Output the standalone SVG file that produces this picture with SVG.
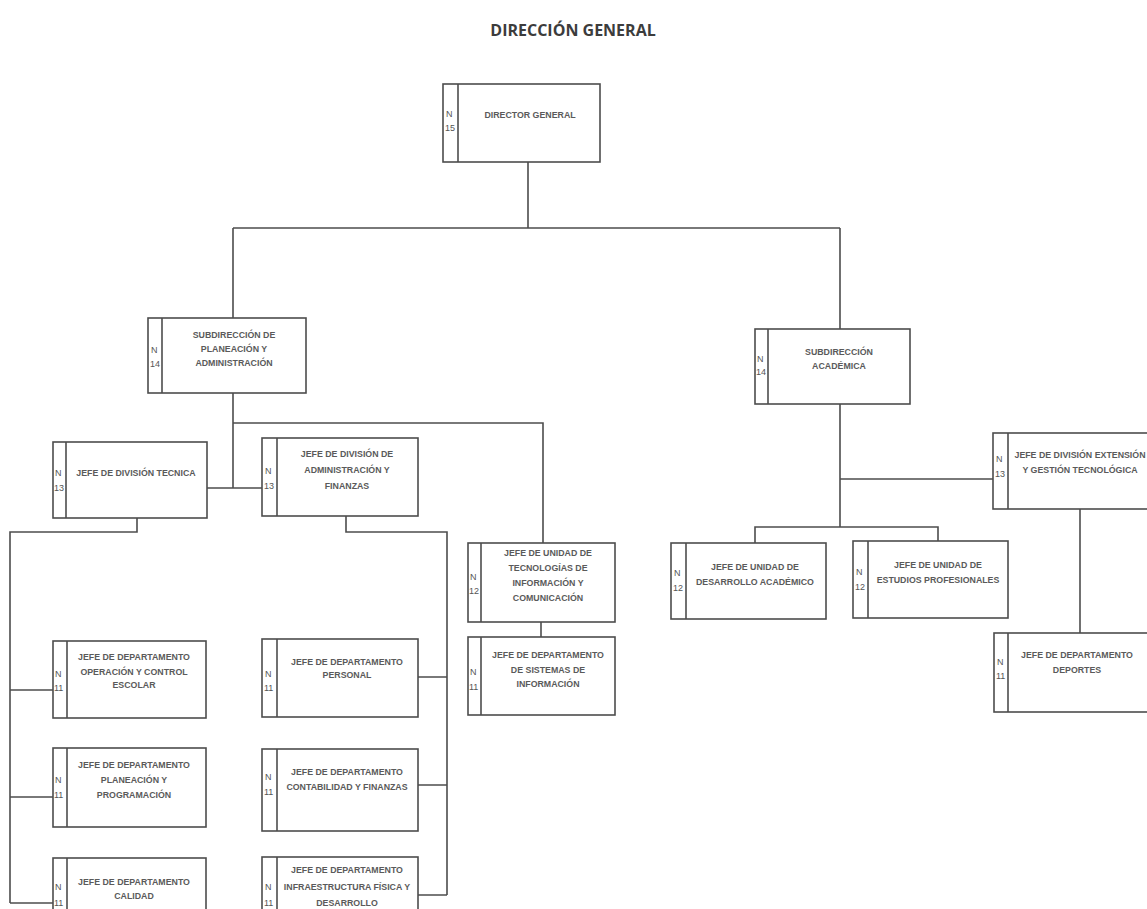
<svg xmlns="http://www.w3.org/2000/svg" width="1147" height="909" viewBox="0 0 1147 909">
<style>
.bg{fill:#ffffff}
.box{fill:#ffffff;stroke:#4d4d4d;stroke-width:1.6}
.strip{stroke:#4d4d4d;stroke-width:1.6}
.ln{fill:none;stroke:#4d4d4d;stroke-width:1.6}
.t{font-family:"Liberation Sans",Arial,sans-serif;font-size:8.8px;font-weight:bold;fill:#5a5a5a;text-anchor:middle}
.n{font-family:"Liberation Sans",Arial,sans-serif;font-size:9px;fill:#555555}
.title{font-family:"Open Sans","Liberation Sans",sans-serif;font-size:16px;font-weight:bold;fill:#3c3c3c;text-anchor:middle}
</style>
<rect class="bg" x="0" y="0" width="1147" height="909"/>
<text class="title" x="573" y="36">DIRECCIÓN GENERAL</text>

<g id="connectors">
<path class="ln" d="M528 162 V228 M233 228 H840 M233 228 V318 M840 228 V329"/>
<path class="ln" d="M233 393 V488 M207 488 H262 M233 423 H543 V543"/>
<path class="ln" d="M137 518 V532 H10 V903 M10 690 H53 M10 797 H53 M10 903 H53"/>
<path class="ln" d="M346 516 V532 H447 V895 M418 677 H447 M418 785 H447 M418 895 H447"/>
<path class="ln" d="M541 622 V637"/>
<path class="ln" d="M840 404 V527 M840 479 H993 M755 543 V527 H938 V541"/>
<path class="ln" d="M1080 509 V633"/>
</g>

<g id="director">
<rect class="box" x="443" y="84" width="157" height="78"/>
<line class="strip" x1="458" y1="84" x2="458" y2="162"/>
<text class="n" x="446" y="117">N</text><text class="n" x="445" y="131">15</text>
<text class="t" x="530" y="118">DIRECTOR GENERAL</text>
</g>

<g id="sub-planeacion">
<rect class="box" x="148" y="318" width="158" height="75"/>
<line class="strip" x1="162" y1="318" x2="162" y2="393"/>
<text class="n" x="151" y="353">N</text><text class="n" x="150" y="367">14</text>
<text class="t" x="234" y="338">SUBDIRECCIÓN DE</text>
<text class="t" x="234" y="352">PLANEACIÓN Y</text>
<text class="t" x="234" y="366">ADMINISTRACIÓN</text>
</g>

<g id="sub-academica">
<rect class="box" x="755" y="329" width="155" height="75"/>
<line class="strip" x1="768" y1="329" x2="768" y2="404"/>
<text class="n" x="757" y="362">N</text><text class="n" x="756" y="375">14</text>
<text class="t" x="839" y="355">SUBDIRECCIÓN</text>
<text class="t" x="839" y="369">ACADÉMICA</text>
</g>

<g id="div-tecnica">
<rect class="box" x="53" y="442" width="154" height="76"/>
<line class="strip" x1="66" y1="442" x2="66" y2="518"/>
<text class="n" x="55" y="476">N</text><text class="n" x="54" y="491">13</text>
<text class="t" x="136" y="476">JEFE DE DIVISIÓN TECNICA</text>
</g>

<g id="div-administracion">
<rect class="box" x="262" y="438" width="156" height="78"/>
<line class="strip" x1="277" y1="438" x2="277" y2="516"/>
<text class="n" x="265" y="474">N</text><text class="n" x="264" y="489">13</text>
<text class="t" x="347" y="457">JEFE DE DIVISIÓN DE</text>
<text class="t" x="347" y="473">ADMINISTRACIÓN Y</text>
<text class="t" x="347" y="489">FINANZAS</text>
</g>

<g id="unidad-tic">
<rect class="box" x="468" y="543" width="147" height="79"/>
<line class="strip" x1="481" y1="543" x2="481" y2="622"/>
<text class="n" x="470" y="580">N</text><text class="n" x="469" y="594">12</text>
<text class="t" x="548" y="556">JEFE  DE UNIDAD DE</text>
<text class="t" x="548" y="571">TECNOLOGÍAS DE</text>
<text class="t" x="548" y="586">INFORMACIÓN Y</text>
<text class="t" x="548" y="601">COMUNICACIÓN</text>
</g>

<g id="depto-sistemas">
<rect class="box" x="468" y="637" width="147" height="78"/>
<line class="strip" x1="481" y1="637" x2="481" y2="715"/>
<text class="n" x="470" y="675">N</text><text class="n" x="469" y="690">11</text>
<text class="t" x="548" y="658">JEFE  DE DEPARTAMENTO</text>
<text class="t" x="548" y="673">DE SISTEMAS DE</text>
<text class="t" x="548" y="687">INFORMACIÓN</text>
</g>

<g id="unidad-desarrollo">
<rect class="box" x="671" y="543" width="155" height="76"/>
<line class="strip" x1="686" y1="543" x2="686" y2="619"/>
<text class="n" x="674" y="576">N</text><text class="n" x="673" y="591">12</text>
<text class="t" x="755" y="570">JEFE  DE UNIDAD DE</text>
<text class="t" x="755" y="585">DESARROLLO ACADÉMICO</text>
</g>

<g id="unidad-estudios">
<rect class="box" x="853" y="541" width="155" height="77"/>
<line class="strip" x1="868" y1="541" x2="868" y2="618"/>
<text class="n" x="856" y="575">N</text><text class="n" x="855" y="590">12</text>
<text class="t" x="938" y="568">JEFE  DE UNIDAD DE</text>
<text class="t" x="938" y="583">ESTUDIOS PROFESIONALES</text>
</g>

<g id="div-extension">
<rect class="box" x="993" y="433" width="162" height="76"/>
<line class="strip" x1="1008" y1="433" x2="1008" y2="509"/>
<text class="n" x="996" y="462">N</text><text class="n" x="995" y="477">13</text>
<text class="t" x="1080" y="458">JEFE DE DIVISIÓN EXTENSIÓN</text>
<text class="t" x="1080" y="473">Y GESTIÓN TECNOLÓGICA</text>
</g>

<g id="depto-deportes">
<rect class="box" x="994" y="633" width="162" height="79"/>
<line class="strip" x1="1008" y1="633" x2="1008" y2="712"/>
<text class="n" x="997" y="665">N</text><text class="n" x="996" y="679">11</text>
<text class="t" x="1077" y="658">JEFE DE DEPARTAMENTO</text>
<text class="t" x="1077" y="673">DEPORTES</text>
</g>

<g id="depto-operacion">
<rect class="box" x="53" y="641" width="153" height="77"/>
<line class="strip" x1="67" y1="641" x2="67" y2="718"/>
<text class="n" x="55" y="677">N</text><text class="n" x="54" y="691">11</text>
<text class="t" x="134" y="660">JEFE DE DEPARTAMENTO</text>
<text class="t" x="134" y="675">OPERACIÓN Y CONTROL</text>
<text class="t" x="134" y="688">ESCOLAR</text>
</g>

<g id="depto-planeacion">
<rect class="box" x="53" y="748" width="153" height="79"/>
<line class="strip" x1="67" y1="748" x2="67" y2="827"/>
<text class="n" x="55" y="783">N</text><text class="n" x="54" y="798">11</text>
<text class="t" x="134" y="768">JEFE DE DEPARTAMENTO</text>
<text class="t" x="134" y="783">PLANEACIÓN Y</text>
<text class="t" x="134" y="798">PROGRAMACIÓN</text>
</g>

<g id="depto-calidad">
<rect class="box" x="53" y="858" width="153" height="70"/>
<line class="strip" x1="67" y1="858" x2="67" y2="928"/>
<text class="n" x="55" y="890">N</text><text class="n" x="54" y="906">11</text>
<text class="t" x="134" y="885">JEFE DE DEPARTAMENTO</text>
<text class="t" x="134" y="899">CALIDAD</text>
</g>

<g id="depto-personal">
<rect class="box" x="262" y="639" width="156" height="78"/>
<line class="strip" x1="277" y1="639" x2="277" y2="717"/>
<text class="n" x="265" y="677">N</text><text class="n" x="264" y="691">11</text>
<text class="t" x="347" y="665">JEFE DE DEPARTAMENTO</text>
<text class="t" x="347" y="678">PERSONAL</text>
</g>

<g id="depto-contabilidad">
<rect class="box" x="262" y="749" width="156" height="82"/>
<line class="strip" x1="277" y1="749" x2="277" y2="831"/>
<text class="n" x="265" y="780">N</text><text class="n" x="264" y="795">11</text>
<text class="t" x="347" y="775">JEFE DE DEPARTAMENTO</text>
<text class="t" x="347" y="790">CONTABILIDAD Y FINANZAS</text>
</g>

<g id="depto-infraestructura">
<rect class="box" x="262" y="857" width="156" height="70"/>
<line class="strip" x1="277" y1="857" x2="277" y2="927"/>
<text class="n" x="265" y="890">N</text><text class="n" x="264" y="906">11</text>
<text class="t" x="347" y="873">JEFE DE DEPARTAMENTO</text>
<text class="t" x="347" y="890">INFRAESTRUCTURA FÍSICA Y</text>
<text class="t" x="347" y="906">DESARROLLO</text>
</g>
</svg>
